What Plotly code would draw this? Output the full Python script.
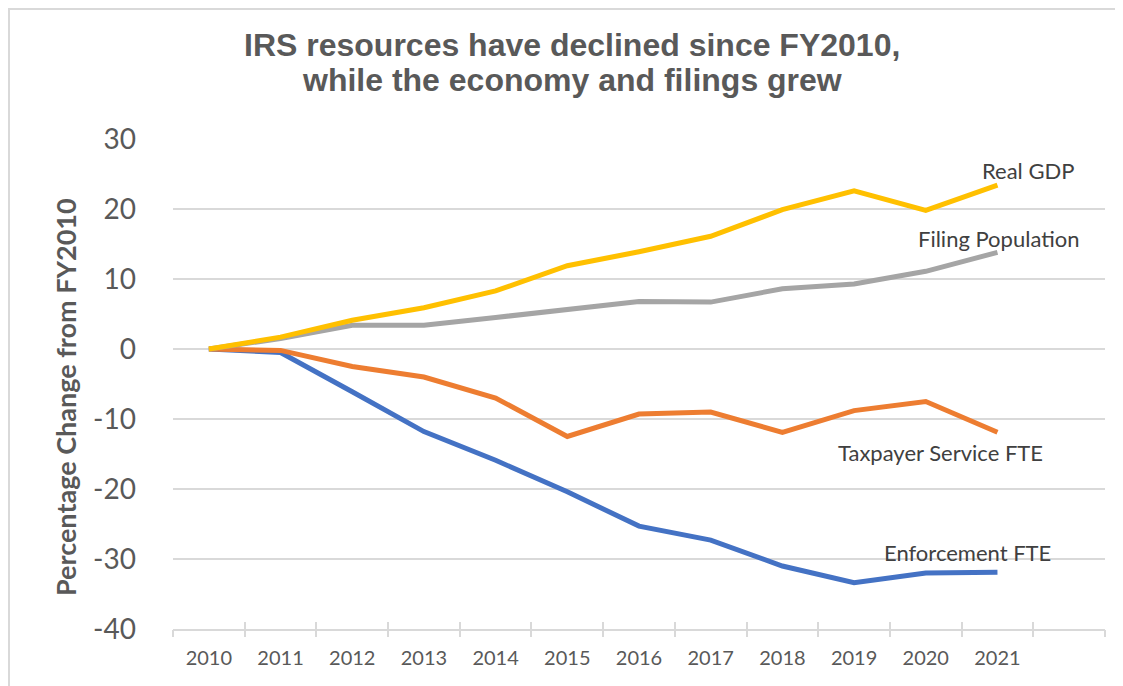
import plotly.graph_objects as go

# ----------------------------
# DATA
# ----------------------------
years = [2010, 2011, 2012, 2013, 2014, 2015, 2016, 2017, 2018, 2019, 2020, 2021]

real_gdp = [0, 1.7, 4.1, 5.9, 8.3, 11.9, 13.9, 16.1, 19.9, 22.6, 19.8, 23.4]
filing_pop = [0, 1.5, 3.4, 3.4, 4.5, 5.6, 6.8, 6.7, 8.6, 9.3, 11.1, 13.8]
taxpayer_fte = [0, -0.2, -2.5, -4.0, -7.0, -12.5, -9.3, -9.0, -11.9, -8.8, -7.5, -11.9]
enforcement_fte = [0, -0.5, -6.1, -11.8, -15.9, -20.4, -25.3, -27.3, -31.0, -33.4, -32.0, -31.9]

y_ticks = [30, 20, 10, 0, -10, -20, -30, -40]
y_labels = ["30", "20", "10", "0", "-10", "-20", "-30", "-40"]
boundaries = [y - 0.5 for y in years] + [2021.5, 2022.5]

title_lines = ["IRS resources have declined since FY2010,",
               "while the economy and filings grew"]

series = [
    ("Real GDP", real_gdp, "#FFC000", 31, 15),
    ("Filing Population", filing_pop, "#A5A5A5", 1, 14),
    ("Taxpayer Service FTE", taxpayer_fte, "#ED7D31", -57, -20),
    ("Enforcement FTE", enforcement_fte, "#4472C4", -30, 20),
]

GRID = "#D9D9D9"
TEXT = "#595959"

# the page body adds an 8px offset, so the figure is drawn 8px smaller
FW, FH = 1115, 678
# plot area in figure pixels (left, top, width, height)
L, T, W, H = 165, 131, 932, 490


def px(x):
    return (x - L) / W


def py(y):
    return (T + H - y) / H


fig = go.Figure()

# draw order: blue, orange, grey, yellow (yellow on top)
for name, vals, color, dx, dy in reversed(series):
    fig.add_trace(go.Scatter(
        x=years, y=vals, mode="lines", name=name,
        line=dict(color=color, width=5),
        showlegend=False
    ))

for name, vals, color, dx, dy in series:
    fig.add_annotation(
        x=years[-1], y=vals[-1], text=name, showarrow=False,
        xshift=dx, yshift=dy,
        font=dict(family="Lato", size=22, color="#404040")
    )

# invisible traces to carry the boundary tick axes
for ax in ["x2", "x3"]:
    fig.add_trace(go.Scatter(x=[2009.5, 2022.5], y=[0, 0], xaxis=ax, mode="lines",
                             line=dict(width=0), hoverinfo="skip", showlegend=False))

# title, one annotation per line
for i, line in enumerate(title_lines):
    fig.add_annotation(
        xref="paper", yref="paper", x=px(564), y=py(37 + 35 * i),
        xanchor="center", yanchor="middle", showarrow=False,
        text="<b>" + line + "</b>",
        font=dict(family="Liberation Sans", size=32, color=TEXT)
    )

# y axis title
fig.add_annotation(
    xref="paper", yref="paper", x=px(57), y=py(389),
    xanchor="center", yanchor="middle",
    text="<b>Percentage Change from FY2010</b>", textangle=-90, showarrow=False,
    font=dict(family="Lato", size=27, color=TEXT)
)

fig.update_layout(
    width=FW, height=FH,
    margin=dict(l=L, r=FW - L - W, t=T, b=FH - T - H),
    paper_bgcolor="white", plot_bgcolor="white",
    xaxis=dict(
        range=[2009.5, 2022.5], tickvals=years, ticktext=[str(y) for y in years],
        ticks="", showgrid=False, zeroline=False, automargin=False,
        showline=True, linecolor=GRID, linewidth=2,
        tickfont=dict(family="Lato", size=20, color=TEXT),
        ticklabelstandoff=10
    ),
    xaxis2=dict(
        overlaying="x", anchor="y", side="bottom", range=[2009.5, 2022.5],
        tickvals=boundaries, showticklabels=False, ticks="outside", automargin=False,
        ticklen=7, tickwidth=1.5, tickcolor=GRID, showgrid=False, zeroline=False
    ),
    xaxis3=dict(
        overlaying="x", anchor="y", side="bottom", range=[2009.5, 2022.5],
        tickvals=boundaries, showticklabels=False, ticks="inside", automargin=False,
        ticklen=7, tickwidth=1.5, tickcolor=GRID, showgrid=False, zeroline=False
    ),
    yaxis=dict(
        range=[-40, 30], tickvals=y_ticks, ticktext=y_labels,
        showgrid=True, gridcolor=GRID, gridwidth=1.5, automargin=False,
        zeroline=False, showline=False, ticks="",
        tickfont=dict(family="Lato", size=28, color=TEXT),
        ticklabelstandoff=36
    ),
)

# thin frame (top and left edges visible)
fig.add_shape(
    type="rect", xref="paper", yref="paper",
    x0=px(1), x1=px(1140), y0=py(700), y1=py(1),
    line=dict(color=GRID, width=2), layer="below"
)

fig.write_html("out.html")
